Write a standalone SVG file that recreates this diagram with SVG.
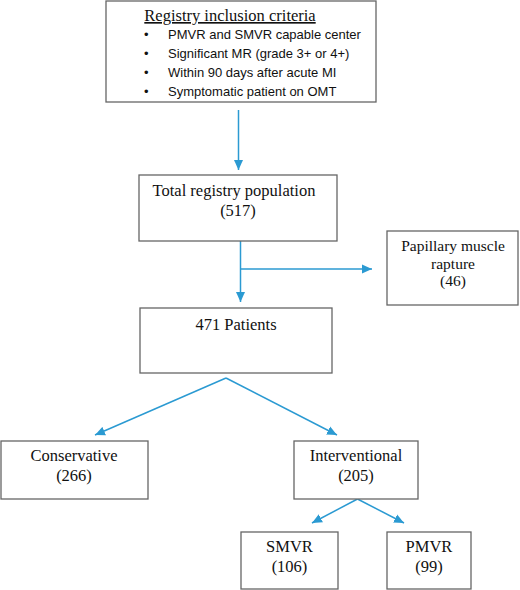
<svg xmlns="http://www.w3.org/2000/svg" width="520" height="590" viewBox="0 0 520 590">
<style>
.box{fill:#fff;stroke:#666;stroke-width:1.3}
.t{font-family:"Liberation Serif","Times New Roman",serif;font-size:16.5px;fill:#111;text-anchor:middle}
.p{font-size:15.5px}
.s{font-family:"Liberation Sans",Arial,sans-serif;font-size:13px;fill:#111}
.c{stroke:#2b9ad2;stroke-width:1.5;fill:none}
</style>
<defs>
<marker id="ah" markerUnits="userSpaceOnUse" markerWidth="10" markerHeight="10" viewBox="0 0 10 10" refX="10" refY="5" orient="auto">
<path d="M0,0.5 L10,5 L0,9.5 Z" fill="#2b9ad2"/>
</marker>
</defs>
<rect width="520" height="590" fill="#fff"/>
<g id="connectors">
<line class="c" x1="238.5" y1="110" x2="238.5" y2="170" marker-end="url(#ah)"/>
<line class="c" x1="240.5" y1="241" x2="240.5" y2="302" marker-end="url(#ah)"/>
<line class="c" x1="240.5" y1="269" x2="372" y2="269" marker-end="url(#ah)"/>
<line class="c" x1="226" y1="378" x2="95" y2="435" marker-end="url(#ah)"/>
<line class="c" x1="226" y1="378" x2="337" y2="435" marker-end="url(#ah)"/>
<line class="c" x1="357.5" y1="499" x2="312" y2="523" marker-end="url(#ah)"/>
<line class="c" x1="357.5" y1="499" x2="404" y2="523" marker-end="url(#ah)"/>
</g>
<g id="criteria">
<rect class="box" x="106" y="1" width="270" height="101"/>
<text class="t" x="230" y="21" text-decoration="underline">Registry inclusion criteria</text>
<text class="s" x="144" y="39">•</text>
<text class="s" x="168" y="39">PMVR and SMVR capable center</text>
<text class="s" x="144" y="58">•</text>
<text class="s" x="168" y="58">Significant MR (grade 3+ or 4+)</text>
<text class="s" x="144" y="77">•</text>
<text class="s" x="168" y="77">Within 90 days after acute MI</text>
<text class="s" x="144" y="96">•</text>
<text class="s" x="168" y="96">Symptomatic patient on OMT</text>
</g>
<g id="total">
<rect class="box" x="139" y="175" width="198" height="66"/>
<text class="t" x="234" y="196">Total registry population</text>
<text class="t" x="238" y="216">(517)</text>
</g>
<g id="papillary">
<rect class="box" x="387" y="231" width="131" height="74"/>
<text class="t p" x="453" y="251">Papillary muscle</text>
<text class="t p" x="453" y="268.5">rapture</text>
<text class="t p" x="453" y="286">(46)</text>
</g>
<g id="patients">
<rect class="box" x="140" y="308" width="192" height="65"/>
<text class="t" x="236" y="330">471 Patients</text>
</g>
<g id="conservative">
<rect class="box" x="1" y="441" width="147" height="58"/>
<text class="t" x="74" y="461">Conservative</text>
<text class="t" x="74" y="481">(266)</text>
</g>
<g id="interventional">
<rect class="box" x="294" y="441" width="124" height="58"/>
<text class="t" x="356" y="461">Interventional</text>
<text class="t" x="356" y="481">(205)</text>
</g>
<g id="smvr">
<rect class="box" x="241" y="532" width="97" height="57"/>
<text class="t" x="289.5" y="552">SMVR</text>
<text class="t" x="289.5" y="572">(106)</text>
</g>
<g id="pmvr">
<rect class="box" x="387" y="532" width="84" height="57"/>
<text class="t" x="429" y="552">PMVR</text>
<text class="t" x="429" y="572">(99)</text>
</g>
</svg>
